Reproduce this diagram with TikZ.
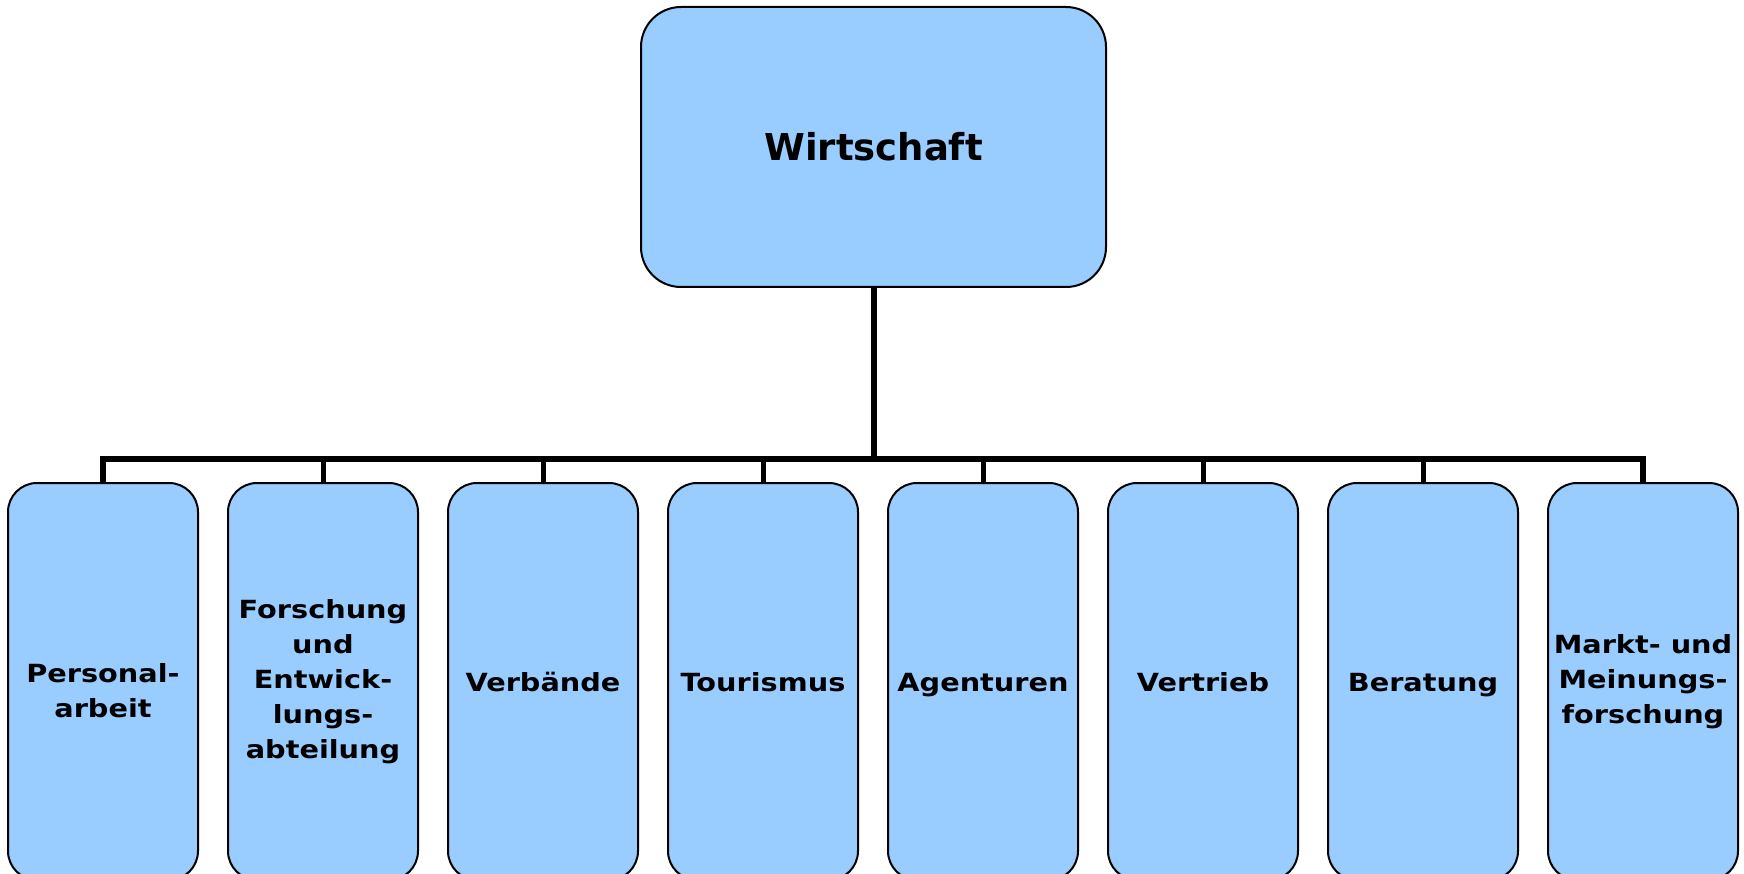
\documentclass[tikz,border=0pt]{standalone}
\usepackage{fontspec}
\setmainfont{DejaVu Sans}
\newfontfamily\unitfont{DejaVu Sans}[FakeStretch = 1.15]
\usepackage{tikz}
\usepackage{xcolor}
\usetikzlibrary{shapes, calc, positioning}

\definecolor{boxblue}{RGB}{153,204,255}

\tikzset{
    head/.style = {draw, line width = 2pt, fill = boxblue, rounded corners = 40pt,
        minimum width = 465pt, minimum height = 280pt, inner sep = 0pt,
        font = \fontsize{37}{44}\selectfont\bfseries},
    unittext/.style = {align = center, inner sep = 0pt,
        font = \unitfont\fontsize{25}{35}\selectfont\bfseries},
    unit/.style = {unittext, draw, line width = 2pt, fill = boxblue, rounded corners = 29pt,
        minimum width = 190pt, minimum height = 397pt},
    one/.style = {text height = 23pt, text depth = 4pt},
    link/.style = {line width = 6pt},
    drop/.style = {line width = 5pt},
}

\begin{document}
\begin{tikzpicture}[x = 1pt, y = -1pt]%{{{
                \clip (0, 0) rectangle (1744, 874);

                \node (W) [head] at (873.5, 147) {Wirtschaft};

                \node (U1) [unit, label = {[unittext, yshift = -9pt]center:{Personal-\\arbeit}}] at (103, 681.5) {};
                \node (U2) [unit] at (323, 681.5) {Forschung\\und\\Entwick-\\lungs-\\abteilung};
                \node (U3) [unit, one] at (543, 681.5) {Verbände};
                \node (U4) [unit, one] at (763, 681.5) {Tourismus};
                \node (U5) [unit, one] at (983, 681.5) {Agenturen};
                \node (U6) [unit, one] at (1203, 681.5) {Vertrieb};
                \node (U7) [unit, one] at (1423, 681.5) {Beratung};
                \node (U8) [unit] at (1643, 681.5) {Markt- und\\Meinungs-\\forschung};

                \coordinate (bar) at (0, 459);

                \draw [link] (W.south) -- (W.south |- bar);
                \draw [link] (U1.north) -- (U1.north |- bar) -- (U8.north |- bar) -- (U8.north);
                \draw [drop] (U2.north) -- (U2.north |- bar);
                \draw [drop] (U3.north) -- (U3.north |- bar);
                \draw [drop] (U4.north) -- (U4.north |- bar);
                \draw [drop] (U5.north) -- (U5.north |- bar);
                \draw [drop] (U6.north) -- (U6.north |- bar);
                \draw [drop] (U7.north) -- (U7.north |- bar);
            \end{tikzpicture}
\end{document}
